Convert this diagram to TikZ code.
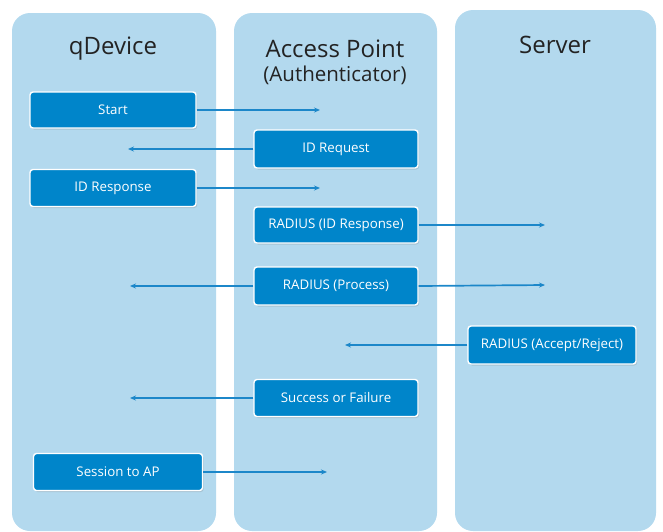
\documentclass[tikz,border=0pt]{standalone}
\usepackage{fontspec}
\setmainfont{Open Sans}
\usetikzlibrary{arrows.meta,shadows}
\definecolor{lanefill}{RGB}{179,217,238}
\definecolor{boxfill}{RGB}{0,133,202}
\definecolor{flowcol}{RGB}{28,135,201}
\definecolor{titlecol}{RGB}{35,35,35}
\tikzset{
  lane/.style={fill=lanefill, draw=none, rounded corners=18pt},
  title/.style={text=titlecol, font=\fontsize{24}{28}\selectfont, align=center},
  msg/.style={draw=white, line width=1.4pt, fill=boxfill, rounded corners=3pt,
    text=white, font=\fontsize{13.3}{15}\selectfont, inner sep=0pt,
    drop shadow={shadow xshift=1.2pt, shadow yshift=-1.5pt, opacity=0.25}},
  flow/.style={draw=flowcol, line width=1.7pt, -{Stealth[length=6pt,width=5pt]}}
}
\begin{document}
\begin{tikzpicture}[x=1pt,y=-1pt]
\useasboundingbox (0,0) rectangle (663,531);
\begin{scope}
\clip (0,0) rectangle (663,531);
% swim lanes
\fill[lane] (12,13) rectangle (216,531);
\fill[lane] (234,13) rectangle (437,531);
\fill[lane] (455,10) rectangle (656,531);
\end{scope}

% lane headings
\node[title] (tdev) at (113,49) {qDevice};
\node[title] (tap) at (335,49) {Access Point};
\node[title, font=\fontsize{20.5}{24}\selectfont] (tauth) at (335,75) {(Authenticator)};
\node[title] (tsrv) at (555,45) {Server};

% message boxes
\node[msg, minimum width=166pt, minimum height=36pt] (start) at (113,110) {Start};
\node[msg, minimum width=164pt, minimum height=38pt] (idreq) at (336,149) {ID Request};
\node[msg, minimum width=166pt, minimum height=37pt] (idresp) at (113,188) {ID Response};
\node[msg, minimum width=164pt, minimum height=36pt] (radid) at (336,225) {RADIUS (ID Response)};
\node[msg, minimum width=164pt, minimum height=38pt] (radproc) at (336,286) {RADIUS (Process)};
\node[msg, minimum width=168pt, minimum height=38pt] (radacc) at (552,345) {RADIUS (Accept/Reject)};
\node[msg, minimum width=164pt, minimum height=37pt] (succ) at (336,398) {Success or Failure};
\node[msg, minimum width=169pt, minimum height=37pt] (sess) at (118,472) {Session to AP};

% free arrow ends
\coordinate (e1) at (320,110);
\coordinate (e2) at (128,149);
\coordinate (e3) at (320,188);
\coordinate (e4) at (545,225);
\coordinate (e5) at (130,286);
\coordinate (e6) at (545,285);
\coordinate (e7) at (345,345);
\coordinate (e8) at (130,398);
\coordinate (e9) at (327,472);

% message flows
\draw[flow] (start.east) -- (e1);
\draw[flow] (idreq.west) -- (e2);
\draw[flow] (idresp.east) -- (e3);
\draw[flow] (radid.east) -- (e4);
\draw[flow] (radproc.west) -- (e5);
\draw[flow] (radproc.east) -- (e6);
\draw[flow] (radacc.west) -- (e7);
\draw[flow] (succ.west) -- (e8);
\draw[flow] (sess.east) -- (e9);
\end{tikzpicture}
\end{document}
